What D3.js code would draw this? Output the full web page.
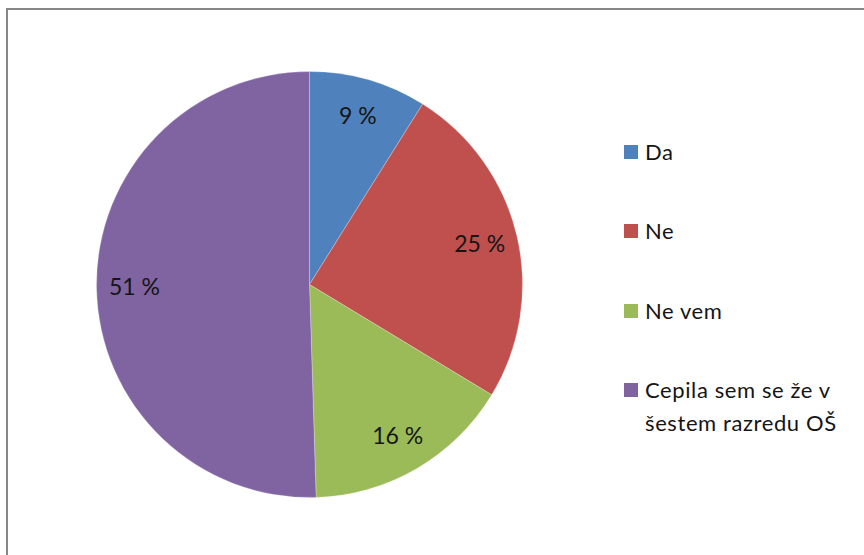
<!DOCTYPE html>
<html>
<head>
<meta charset="utf-8">
<script src="https://cdn.jsdelivr.net/npm/d3@7"></script>
<style>
  html, body { margin: 0; padding: 0; background: #fff; }
  svg { display: block; }
  text { font-family: Lato, "Open Sans", sans-serif; fill: #151515; }
</style>
</head>
<body>
<svg id="chart" width="864" height="555"></svg>
<script>
// Survey answers and their shares (percent)
const categories = ["Da", "Ne", "Ne vem", "Cepila sem se že v šestem razredu OŠ"];
const legendLines = [["Da"], ["Ne"], ["Ne vem"], ["Cepila sem se že v", "šestem razredu OŠ"]];
const values = [9, 25, 16, 51];
const colors = ["#4F81BD", "#C0504D", "#9BBB59", "#8064A2"];

const W = 864, H = 555;
const svg = d3.select("#chart");

// chart area frame (continues past the right and bottom edges)
svg.append("rect")
  .attr("x", 7).attr("y", 9)
  .attr("width", W + 20).attr("height", H + 20)
  .attr("fill", "#fff")
  .attr("stroke", "#878787")
  .attr("stroke-width", 2);

const cx = 309.5, cy = 284.5, radius = 213;

const data = categories.map((c, i) => ({ name: c, value: values[i], color: colors[i] }));
const pie = d3.pie().sort(null).value(d => d.value);
const arcs = pie(data);

const arc = d3.arc().innerRadius(0).outerRadius(radius);
const labelArc = d3.arc().innerRadius(175).outerRadius(175);

const g = svg.append("g").attr("transform", `translate(${cx},${cy})`);

g.selectAll("path.slice")
  .data(arcs)
  .join("path")
  .attr("class", "slice")
  .attr("d", arc)
  .attr("fill", d => d.data.color)
  .attr("stroke", "rgba(255,255,255,0.4)")
  .attr("stroke-width", 0.6);

g.selectAll("text.val")
  .data(arcs)
  .join("text")
  .attr("class", "val")
  .attr("transform", d => `translate(${labelArc.centroid(d)})`)
  .attr("text-anchor", "middle")
  .attr("dy", "0.35em")
  .style("font-size", "23px")
  .text(d => `${d.data.value} %`);

// legend
const legendX = 624, legendBase = [160, 239, 319, 398], lineGap = 33;
const lg = svg.append("g");
legendLines.forEach((lines, i) => {
  lg.append("rect")
    .attr("x", legendX).attr("y", legendBase[i] - 15)
    .attr("width", 14).attr("height", 14)
    .attr("fill", colors[i]);
  lines.forEach((ln, j) => {
    lg.append("text")
      .attr("x", legendX + 21)
      .attr("y", legendBase[i] + j * lineGap)
      .style("font-size", "22px")
      .style("letter-spacing", "0.6px")
      .text(ln);
  });
});
</script>
</body>
</html>
